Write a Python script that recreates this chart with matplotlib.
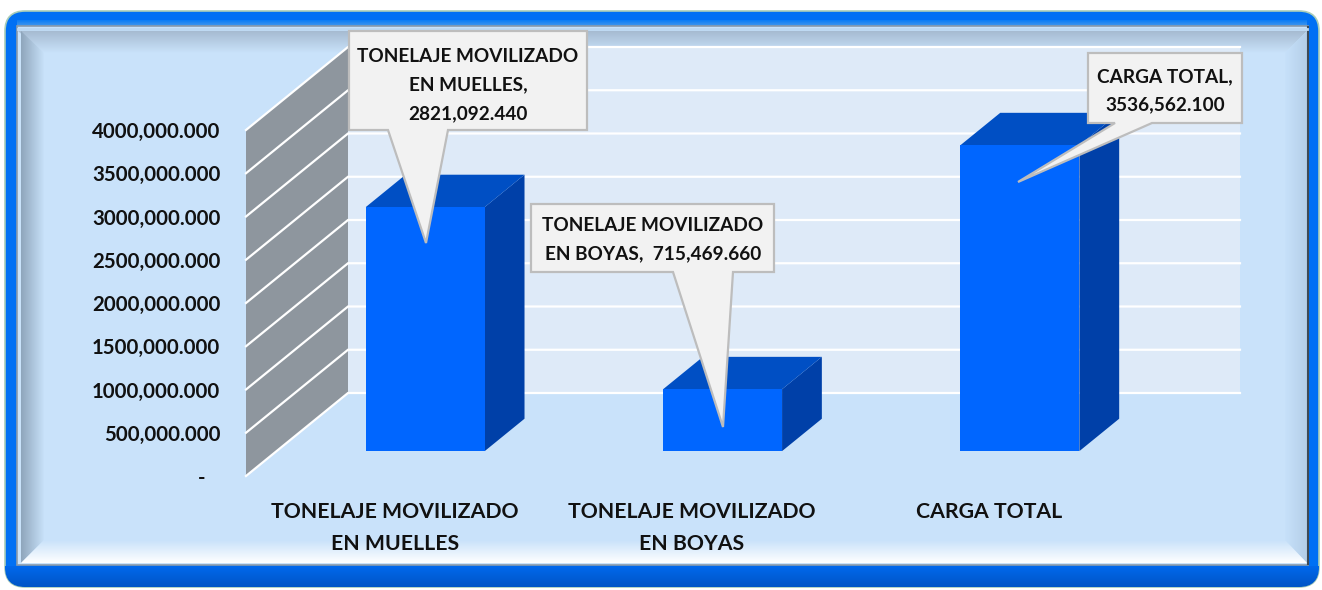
import numpy as np
import matplotlib
matplotlib.use('Agg')
import matplotlib.pyplot as plt
from matplotlib.colors import LinearSegmentedColormap
from matplotlib.patches import FancyBboxPatch, Polygon, Rectangle

plt.rcParams['font.family'] = ['Lato', 'DejaVu Sans']
plt.rcParams['font.weight'] = 'bold'

# values
categories = ['TONELAJE MOVILIZADO\nEN MUELLES', 'TONELAJE MOVILIZADO\nEN BOYAS', 'CARGA TOTAL']
values = [2821092.44, 715469.66, 3536562.10]
y_ticks = [0, 500000, 1000000, 1500000, 2000000, 2500000, 3000000, 3500000, 4000000]
y_labels = ['-   ', '500,000.000', '1000,000.000', '1500,000.000', '2000,000.000',
            '2500,000.000', '3000,000.000', '3500,000.000', '4000,000.000']
callout_texts = ['TONELAJE MOVILIZADO\nEN MUELLES,\n2821,092.440',
                 'TONELAJE MOVILIZADO\nEN BOYAS,  715,469.660',
                 'CARGA TOTAL,\n3536,562.100']

W, H = 1322, 590
fig = plt.figure(figsize=(W / 100, H / 100), dpi=100, facecolor='white')


def pixel_axes(zorder):
    a = fig.add_axes([0, 0, 1, 1], zorder=zorder)
    a.set_xlim(0, W)
    a.set_ylim(H, 0)
    a.axis('off')
    return a


def gradient(a, box, start, end, vertical, zorder, clip=None):
    # box is x0, x1, y0, y1 in pixels
    cmap = LinearSegmentedColormap.from_list('g', [start, end])
    ramp = np.linspace(0, 1, 64)
    ramp = ramp.reshape(-1, 1) if vertical else ramp.reshape(1, -1)
    im = a.imshow(ramp, extent=(box[0], box[1], box[3], box[2]), origin='upper',
                  cmap=cmap, aspect='auto', interpolation='bilinear', zorder=zorder)
    if clip is not None:
        im.set_clip_path(clip)


# picture frame behind the chart
bg = pixel_axes(0)
outer = FancyBboxPatch((20, 26), 1284, 546, boxstyle='round,pad=15,rounding_size=20',
                       fc='#0070F4', ec='#A9CDB8', lw=1.2, zorder=1)
bg.add_patch(outer)
gradient(bg, (5, 1319, 566, 588), '#0068EC', '#0054C4', True, 2, clip=outer)
gradient(bg, (17, 1307, 20, 27), '#0A7CF6', '#4C9BEA', True, 2)
bg.add_patch(Rectangle((17, 26), 1291, 539, fc='#C9E2FA', ec='#8A9BAB', lw=1.2, zorder=4))

bevels = [
    ((18, 1307, 31, 53), '#A6BBD1', '#C9E2FA', True, [(18, 31), (1307, 31), (1285, 53), (43, 53)]),
    ((21, 44, 31, 563), '#8FA6BC', '#C7E0F8', False, [(21, 31), (44, 53), (44, 540), (21, 563)]),
    ((1285, 1307, 31, 563), '#C7E1FA', '#B4CEE8', False, [(1307, 31), (1285, 53), (1285, 540), (1307, 563)]),
    ((18, 1307, 540, 563), '#C9E2FA', '#FFFFFF', True, [(21, 563), (44, 540), (1285, 540), (1307, 563)]),
]
for box, c0, c1, vert, pts in bevels:
    gradient(bg, box, c0, c1, vert, 5, clip=Polygon(pts, transform=bg.transData))
bg.plot([1307.5, 1307.5], [27, 564], color='#3F4A55', lw=1.5, zorder=6)
bg.plot([18, 1307], [29, 29], color='#BDD8F2', lw=2, zorder=6)
bg.set_xlim(0, W)
bg.set_ylim(H, 0)

# the 3D chart is faked with a depth shift on the data axes
ax = fig.add_axes([246 / W, 1 - 476 / H, 892 / W, 346 / H], zorder=1)
ax.patch.set_visible(False)
ax.set_xlim(0, 3)
ax.set_ylim(0, 4000000)
for s in ax.spines.values():
    s.set_visible(False)

depth_x = 102 / (892 / 3)
depth_y = 83 / 346 * 4000000
bar_width = 0.40
d0, d1 = 0.30, 0.69

# back wall and side wall
ax.add_patch(Rectangle((depth_x, depth_y), 3, 4000000, fc='#DEEAF8', ec='none', clip_on=False, zorder=1))
ax.add_patch(Polygon([(0, 0), (depth_x, depth_y), (depth_x, depth_y + 4000000), (0, 4000000)],
                     fc='#8E969E', ec='none', clip_on=False, zorder=1))
for t in y_ticks:
    ax.plot([0, depth_x, depth_x + 3], [t, t + depth_y, t + depth_y], color='white', lw=1.6,
            clip_on=False, zorder=2, solid_joinstyle='miter')

# bars: front, top and side faces
for i, v in enumerate(values):
    left = i + 0.5 - bar_width / 2
    right = i + 0.5 + bar_width / 2
    ax.bar(left + d0 * depth_x, v, bar_width, bottom=d0 * depth_y, align='edge',
           color='#0066FF', clip_on=False, zorder=5)
    x0, x1 = right + d0 * depth_x, right + d1 * depth_x
    lo0, lo1 = d0 * depth_y, d1 * depth_y
    ax.add_patch(Polygon([(x0, lo0), (x1, lo1), (x1, lo1 + v), (x0, lo0 + v)],
                         fc='#0040A8', ec='none', clip_on=False, zorder=4))
    xl0, xl1 = left + d0 * depth_x, left + d1 * depth_x
    ax.add_patch(Polygon([(xl0, lo0 + v), (xl1, lo1 + v), (x1, lo1 + v), (x0, lo0 + v)],
                         fc='#004FC4', ec='none', clip_on=False, zorder=4))

ax.set_yticks(y_ticks, y_labels, fontsize=14.7, color='#111111')
ax.set_xticks([0.5, 1.5, 2.5], categories, fontsize=15.3, color='#111111', linespacing=1.75)
ax.tick_params(axis='y', length=0, pad=18.5)
ax.tick_params(axis='x', length=0, pad=19)

# callouts sit on top of everything
top = pixel_axes(2)
top.patch.set_visible(False)
callouts = [
    dict(box=(349, 587, 31, 130), ptr=[(388, 130), (426, 243), (448, 130)], text=(468, 85)),
    dict(box=(531, 774, 204, 272), ptr=[(673, 272), (723, 427), (733, 272)], text=(653, 240)),
    dict(box=(1088, 1242, 53, 123), ptr=[(1115, 123), (1018, 182), (1152, 123)], text=(1165, 91)),
]
for c, txt in zip(callouts, callout_texts):
    x0, x1, y0, y1 = c['box']
    (ax_, ay), tip, (bx, by) = c['ptr']
    outline = [(x0, y0), (x1, y0), (x1, y1), (bx, by), tip, (ax_, ay), (x0, y1)]
    top.add_patch(Polygon(outline, closed=True, fc='#F2F2F2', ec='#BDBDBD', lw=1.6, joinstyle='miter'))
    top.text(c['text'][0], c['text'][1], txt, ha='center', va='center', fontsize=13.7, color='#111111',
             linespacing=1.82)

fig.savefig('out.png', dpi=100)
